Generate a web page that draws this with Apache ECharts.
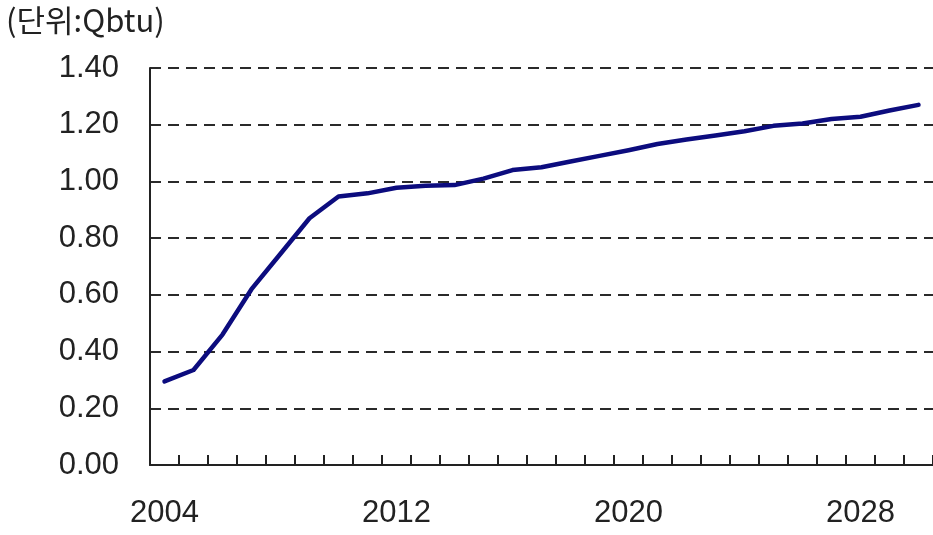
<!DOCTYPE html>
<html>
<head>
<meta charset="utf-8">
<script src="https://cdn.jsdelivr.net/npm/echarts@6/dist/echarts.min.js"></script>
<style>
html,body{margin:0;padding:0;background:#fff;}
#c{width:933px;height:535px;}
</style>
</head>
<body>
<div id="c"></div>
<script>
const unitLabel = "(단위:Qbtu)";
const years = ["2004","2005","2006","2007","2008","2009","2010","2011","2012","2013","2014","2015","2016","2017","2018","2019","2020","2021","2022","2023","2024","2025","2026","2027","2028","2029","2030"];
const values = [0.295, 0.335, 0.46, 0.62, 0.745, 0.87, 0.947, 0.958, 0.978, 0.985, 0.987, 1.01, 1.04, 1.05, 1.07, 1.09, 1.11, 1.132, 1.148, 1.162, 1.177, 1.196, 1.204, 1.22, 1.228, 1.25, 1.27];

const font = '"Liberation Sans",Arial,sans-serif';
const chart = echarts.init(document.getElementById('c'), null, {renderer:'canvas'});
chart.setOption({
  animation:false,
  backgroundColor:'#fff',
  title:{
    text:unitLabel, left:1, top:0,
    textStyle:{fontFamily:'"Noto Sans CJK KR",sans-serif', fontSize:31, fontWeight:'normal', color:'#222'}
  },
  grid:{left:150, top:68, bottom:70, right:-6, containLabel:false},
  xAxis:{
    type:'category', data:years, boundaryGap:true,
    axisLine:{show:true, lineStyle:{color:'#222', width:2}},
    axisTick:{show:true, inside:true, length:10, interval:0, lineStyle:{color:'#222', width:2}},
    axisLabel:{interval:7, margin:33, fontFamily:font, fontSize:31, color:'#222'},
    splitLine:{show:false}
  },
  yAxis:{
    type:'value', min:0, max:1.4, interval:0.2,
    axisLine:{show:true, lineStyle:{color:'#222', width:2}},
    axisTick:{show:false},
    axisLabel:{margin:31, fontFamily:font, fontSize:31, color:'#222', formatter:v=>v.toFixed(2)},
    splitLine:{show:true, lineStyle:{color:'#2a2a2a', width:2, type:[11,7]}}
  },
  series:[{
    type:'line', data:values, symbol:'none', smooth:false,
    lineStyle:{color:'#0c0c7e', width:4.5, cap:'round', join:'round'},
    z:5
  }]
});
</script>
</body>
</html>
